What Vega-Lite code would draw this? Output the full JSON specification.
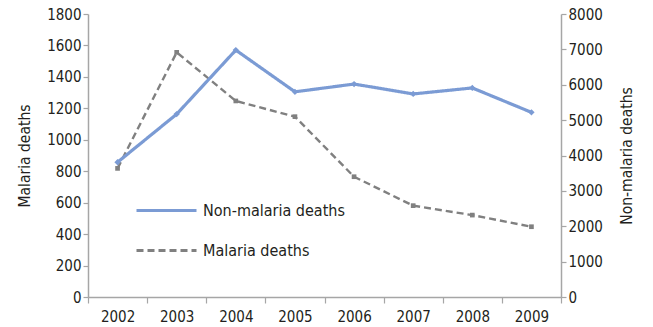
{
  "$schema": "https://vega.github.io/schema/vega-lite/v6.json",
  "autosize": "none",
  "width": 473,
  "height": 283,
  "padding": {"left": 88, "top": 14, "right": 92, "bottom": 30},
  "background": "white",
  "config": {
    "view": {"stroke": null},
    "font": "DejaVu Sans Condensed",
    "axis": {
      "grid": false,
      "domainColor": "#a6a6a6",
      "tickColor": "#a6a6a6",
      "domainWidth": 1.5,
      "tickWidth": 1.2,
      "tickSize": 5,
      "labelFont": "DejaVu Sans Condensed",
      "labelFontSize": 15,
      "labelColor": "#231f20",
      "titleFont": "DejaVu Sans Condensed",
      "titleFontSize": 15.5,
      "titleFontWeight": "normal",
      "titleColor": "#231f20"
    },
    "legend": {
      "labelFont": "DejaVu Sans Condensed"
    }
  },
  "data": {
    "values": [
      {"year": "2002", "series": "Non-malaria deaths", "value": 3810},
      {"year": "2003", "series": "Non-malaria deaths", "value": 5170},
      {"year": "2004", "series": "Non-malaria deaths", "value": 6980},
      {"year": "2005", "series": "Non-malaria deaths", "value": 5800},
      {"year": "2006", "series": "Non-malaria deaths", "value": 6020},
      {"year": "2007", "series": "Non-malaria deaths", "value": 5740},
      {"year": "2008", "series": "Non-malaria deaths", "value": 5910},
      {"year": "2009", "series": "Non-malaria deaths", "value": 5220},
      {"year": "2002", "series": "Malaria deaths", "value": 818},
      {"year": "2003", "series": "Malaria deaths", "value": 1556},
      {"year": "2004", "series": "Malaria deaths", "value": 1247},
      {"year": "2005", "series": "Malaria deaths", "value": 1147},
      {"year": "2006", "series": "Malaria deaths", "value": 765},
      {"year": "2007", "series": "Malaria deaths", "value": 581},
      {"year": "2008", "series": "Malaria deaths", "value": 521},
      {"year": "2009", "series": "Malaria deaths", "value": 447}
    ]
  },
  "encoding": {
    "x": {
      "field": "year",
      "type": "ordinal",
      "title": null,
      "scale": {"type": "band", "paddingInner": 0, "paddingOuter": 0},
      "axis": {"labelAngle": 0, "tickBand": "extent", "labelPadding": 6, "tickSize": 6}
    },
    "color": {
      "field": "series",
      "type": "nominal",
      "scale": {"domain": ["Non-malaria deaths", "Malaria deaths"], "range": ["#7b9bd4", "#808080"]},
      "legend": {
        "title": null,
        "orient": "none",
        "legendX": 47,
        "legendY": 165,
        "padding": 0,
        "symbolType": "stroke",
        "symbolSize": 3600,
        "symbolStrokeWidth": 2.8,
        "labelFont": "DejaVu Sans Condensed",
        "labelFontSize": 16,
        "labelColor": "#231f20",
        "labelOffset": 5,
        "rowPadding": -22
      }
    },
    "strokeDash": {
      "field": "series",
      "type": "nominal",
      "scale": {"domain": ["Non-malaria deaths", "Malaria deaths"], "range": [[1, 0], [7, 4]]},
      "legend": {
        "title": null,
        "orient": "none",
        "legendX": 47,
        "legendY": 165,
        "padding": 0,
        "symbolType": "stroke",
        "symbolSize": 3600,
        "symbolStrokeWidth": 2.8,
        "labelFont": "DejaVu Sans Condensed",
        "labelFontSize": 16,
        "labelColor": "#231f20",
        "labelOffset": 5,
        "rowPadding": -22
      }
    }
  },
  "layer": [
    {
      "transform": [{"filter": "datum.series === 'Malaria deaths'"}],
      "mark": {"type": "line", "strokeWidth": 2.4, "point": {"shape": "square", "size": 22, "filled": true}},
      "encoding": {
        "y": {
          "field": "value",
          "type": "quantitative",
          "title": "Malaria deaths",
          "scale": {"domain": [0, 1800], "nice": false},
          "axis": {"orient": "left", "format": "d", "values": [0, 200, 400, 600, 800, 1000, 1200, 1400, 1600, 1800], "labelPadding": 2, "titlePadding": 14}
        }
      }
    },
    {
      "transform": [{"filter": "datum.series === 'Non-malaria deaths'"}],
      "mark": {"type": "line", "strokeWidth": 3.2, "point": {"shape": "diamond", "size": 40, "filled": true}},
      "encoding": {
        "y": {
          "field": "value",
          "type": "quantitative",
          "title": "Non-malaria deaths",
          "scale": {"domain": [0, 8000], "nice": false},
          "axis": {"orient": "right", "format": "d", "values": [0, 1000, 2000, 3000, 4000, 5000, 6000, 7000, 8000], "labelPadding": 2, "titlePadding": 32, "titleAngle": 270}
        }
      }
    }
  ],
  "resolve": {"scale": {"y": "independent"}}
}
